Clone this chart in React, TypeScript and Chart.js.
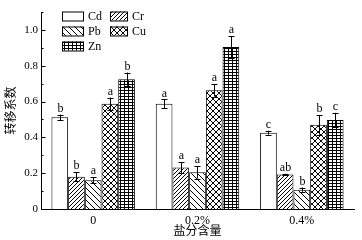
import React, { useEffect, useRef } from "react";
import { Chart, registerables } from "chart.js";

Chart.register(...registerables);

const categories = ["0", "0.2%", "0.4%"];
const seriesNames = ["Cd", "Cr", "Pb", "Cu", "Zn"];
const cdValues = [0.512, 0.587, 0.426];
const crValues = [0.18, 0.232, 0.193];
const pbValues = [0.161, 0.205, 0.108];
const cuValues = [0.587, 0.663, 0.47];
const znValues = [0.725, 0.904, 0.497];
const cdErrors = [0.015, 0.025, 0.011];
const crErrors = [0.025, 0.03, 0.004];
const pbErrors = [0.016, 0.035, 0.012];
const cuErrors = [0.035, 0.035, 0.055];
const znErrors = [0.037, 0.062, 0.04];
const cdLetters = ["b", "a", "c"];
const crLetters = ["b", "a", "ab"];
const pbLetters = ["a", "a", "b"];
const cuLetters = ["a", "a", "b"];
const znLetters = ["b", "a", "c"];
const yTickValues = [0, 0.2, 0.4, 0.6, 0.8, 1.0];

const SERIF = "'Liberation Serif', 'Times New Roman', serif";
const CJK = "'Noto Sans CJK SC', sans-serif";

function makePattern(kind: string): CanvasPattern | string {
  if (kind === "none") return "#ffffff";
  const c = document.createElement("canvas");
  let w = 6;
  let h = 6;
  if (kind === "fwd") { w = 4; h = 4; }
  if (kind === "grid") { w = 4; h = 3; }
  c.width = w;
  c.height = h;
  const g = c.getContext("2d")!;
  g.fillStyle = "#ffffff";
  g.fillRect(0, 0, w, h);
  g.strokeStyle = "#000000";
  g.lineWidth = 1;
  const line = (x1: number, y1: number, x2: number, y2: number) => {
    g.beginPath();
    g.moveTo(x1, y1);
    g.lineTo(x2, y2);
    g.stroke();
  };
  if (kind === "fwd" || kind === "cross") {
    line(-1, h + 1, w + 1, -1);
    line(-1, 1, 1, -1);
    line(w - 1, h + 1, w + 1, h - 1);
  }
  if (kind === "back" || kind === "cross") {
    line(-1, -1, w + 1, h + 1);
    line(w - 1, -1, w + 1, 1);
    line(-1, h - 1, 1, h + 1);
  }
  if (kind === "grid") {
    line(0, 0.5, w, 0.5);
    line(0.5, 0, 0.5, h);
  }
  return g.createPattern(c, "repeat")!;
}

export default function App() {
  const ref = useRef<HTMLCanvasElement>(null);
  useEffect(() => {
    const canvas = ref.current!;
    const values = [cdValues, crValues, pbValues, cuValues, znValues];
    const errors = [cdErrors, crErrors, pbErrors, cuErrors, znErrors];
    const letters = [cdLetters, crLetters, pbLetters, cuLetters, znLetters];
    const kinds = ["none", "fwd", "back", "cross", "grid"];
    const fills = kinds.map((k) => makePattern(k));

    const overlay = {
      id: "overlay",
      afterDatasetsDraw(chart: any) {
        const ctx = chart.ctx as CanvasRenderingContext2D;
        const ys = chart.scales.y;
        const area = chart.chartArea;
        ctx.save();
        values.forEach((vals, i) => {
          const meta = chart.getDatasetMeta(i);
          meta.data.forEach((el: any, j: number) => {
            const x = Math.round(el.x) + 0.5;
            const top = ys.getPixelForValue(vals[j] + errors[i][j]);
            const bot = ys.getPixelForValue(vals[j] - errors[i][j]);
            ctx.strokeStyle = "#000";
            ctx.lineWidth = 1;
            ctx.beginPath();
            ctx.moveTo(x, top);
            ctx.lineTo(x, bot);
            ctx.moveTo(x - 3, Math.round(top) + 0.5);
            ctx.lineTo(x + 3, Math.round(top) + 0.5);
            ctx.moveTo(x - 3, Math.round(bot) + 0.5);
            ctx.lineTo(x + 3, Math.round(bot) + 0.5);
            ctx.stroke();
            ctx.fillStyle = "#000";
            ctx.font = "12px " + SERIF;
            ctx.textAlign = "center";
            ctx.textBaseline = "bottom";
            ctx.fillText(letters[i][j], x, top);
          });
        });
        const ax = area.left + 0.5;
        ctx.strokeStyle = "#000";
        ctx.beginPath();
        for (let k = 0; k <= 11; k++) {
          const v = k / 10;
          const py = Math.round(ys.getPixelForValue(v)) + 0.5;
          const len = k % 2 === 0 ? 4 : 2;
          ctx.moveTo(ax, py);
          ctx.lineTo(ax + len, py);
        }
        ctx.stroke();
        const rows = [16, 31, 46];
        const items = [
          { i: 0, col: 0, row: 0 },
          { i: 1, col: 1, row: 0 },
          { i: 2, col: 0, row: 1 },
          { i: 3, col: 1, row: 1 },
          { i: 4, col: 0, row: 2 },
        ];
        items.forEach((it) => {
          const bx = it.col === 0 ? area.left + 21 : area.left + 69;
          const bw = it.col === 0 ? 21 : 17;
          const tx = it.col === 0 ? area.left + 47 : area.left + 91;
          const cy = rows[it.row];
          ctx.fillStyle = fills[it.i] as any;
          ctx.fillRect(bx, cy - 4.5, bw, 9);
          ctx.strokeStyle = "#000";
          ctx.lineWidth = 1;
          ctx.strokeRect(bx + 0.5, cy - 4.5 + 0.5, bw, 9);
          ctx.fillStyle = "#000";
          ctx.font = "12px " + SERIF;
          ctx.textAlign = "left";
          ctx.textBaseline = "middle";
          ctx.fillText(seriesNames[it.i], tx, cy + 1);
        });
        ctx.restore();
      },
    };

    const chart = new Chart(canvas, {
      type: "bar",
      data: {
        labels: categories,
        datasets: seriesNames.map((name, i) => ({
          label: name,
          data: values[i],
          backgroundColor: fills[i] as any,
          borderColor: "#000000",
          borderWidth: 1,
          categoryPercentage: 0.8,
          barPercentage: 1.0,
        })),
      },
      options: {
        responsive: false,
        animation: false,
        events: [],
        layout: { padding: { top: 12, right: 8, left: 0, bottom: 0 } },
        plugins: {
          legend: { display: false },
          tooltip: { enabled: false },
        },
        scales: {
          x: {
            grid: { display: false, drawTicks: false },
            border: { display: true, color: "#000", width: 1 },
            ticks: {
              color: "#000",
              font: { family: SERIF, size: 12 },
              padding: 5,
              maxRotation: 0,
            },
            title: {
              display: true,
              text: "盐分含量",
              color: "#000",
              font: { family: CJK, size: 12, weight: "normal" as any },
              padding: { top: 0, bottom: 2 },
            },
            afterFit: (s: any) => {
              s.height = 31;
            },
          },
          y: {
            min: 0,
            max: 1.1,
            grid: { display: false, drawTicks: false },
            border: { display: true, color: "#000", width: 1 },
            afterBuildTicks: (s: any) => {
              s.ticks = yTickValues.map((v) => ({ value: v }));
            },
            ticks: {
              color: "#000",
              font: { family: SERIF, size: 11 },
              padding: 3,
              callback: (v: any) => (Number(v) === 0 ? "0" : Number(v).toFixed(1)),
            },
            title: {
              display: true,
              text: "转移系数",
              color: "#000",
              font: { family: CJK, size: 12, weight: "normal" as any },
              padding: { top: 3, bottom: 0 },
            },
            afterFit: (s: any) => {
              s.width = 41;
            },
          },
        },
      },
      plugins: [overlay],
    });
    return () => chart.destroy();
  }, []);
  return (
    <div style={{ position: "fixed", left: 0, top: 0, width: 362, height: 240, background: "#fff" }}>
      <canvas ref={ref} width={362} height={240} style={{ display: "block" }} />
    </div>
  );
}
